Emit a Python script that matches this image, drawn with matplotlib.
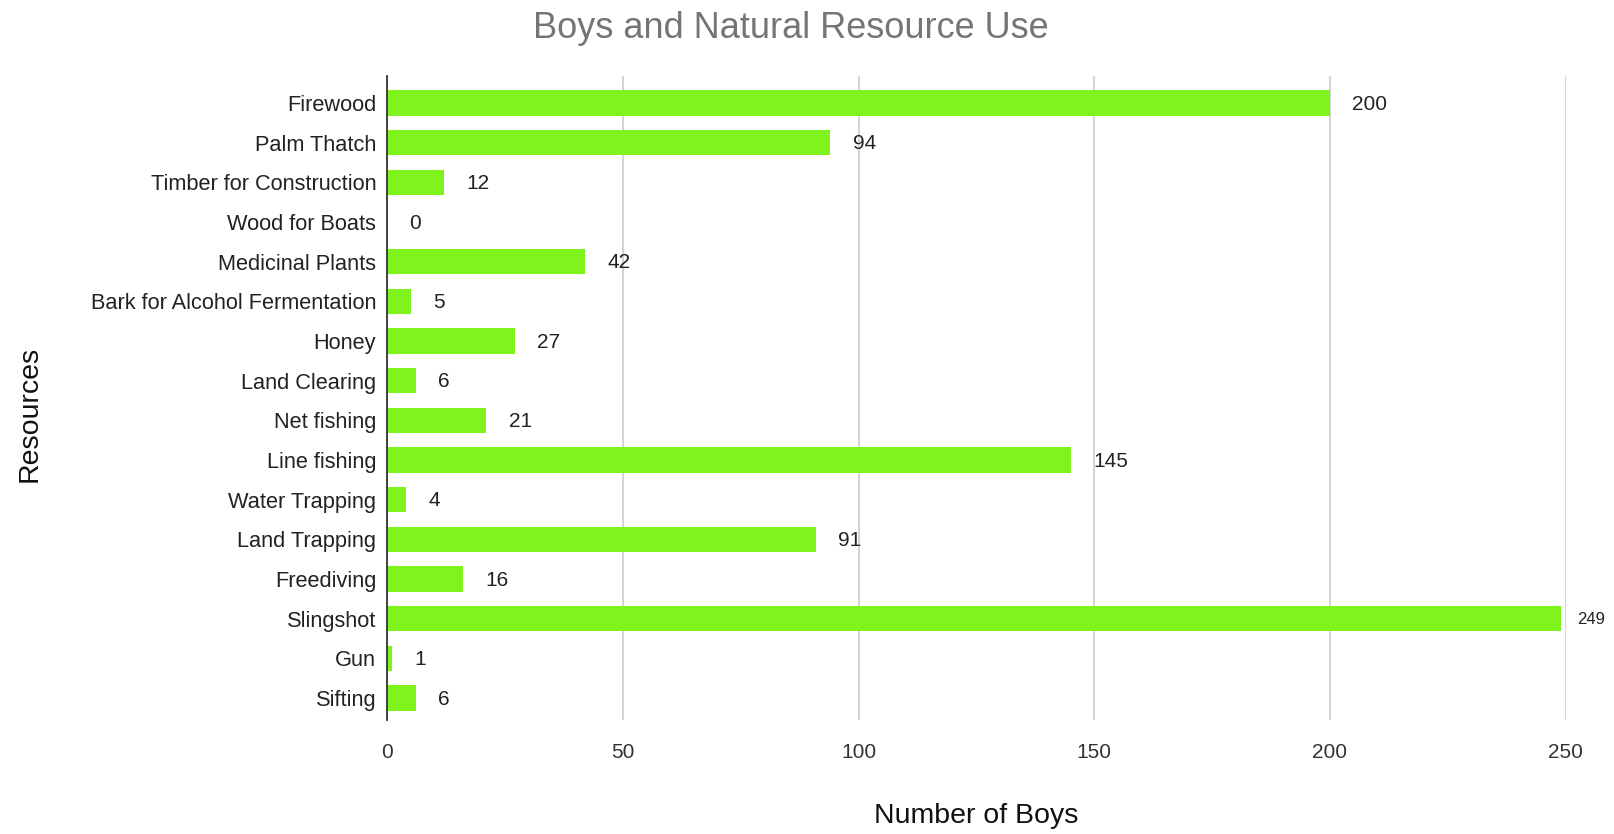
import matplotlib.pyplot as plt

plt.rcParams['font.family'] = ['Liberation Sans', 'DejaVu Sans']

# usage counts per resource, top to bottom
resources = ['Firewood', 'Palm Thatch', 'Timber for Construction', 'Wood for Boats',
             'Medicinal Plants', 'Bark for Alcohol Fermentation', 'Honey', 'Land Clearing',
             'Net fishing', 'Line fishing', 'Water Trapping', 'Land Trapping',
             'Freediving', 'Slingshot', 'Gun', 'Sifting']
boys = [200, 94, 12, 0, 42, 5, 27, 6, 21, 145, 4, 91, 16, 249, 1, 6]

fig = plt.figure(figsize=(16.14, 8.34), dpi=100)
ax = fig.add_axes([0.24, 0.137, 0.730, 0.772])

pos = list(range(len(resources)))
ax.barh(pos, boys, height=0.64, color='#80f31c', zorder=2)

for y, v in zip(pos, boys):
    big = v > 240
    ax.annotate(str(v), (v, y), xytext=(12 if big else 16, -1), textcoords='offset points',
                va='center', ha='left', fontsize=12 if big else 15, color='#222222',
                annotation_clip=False)

ax.set_yticks(pos)
ax.set_yticklabels(resources, fontsize=15.7, color='#222222')
ax.set_ylim(15.55, -0.68)
ax.set_xlim(0, 250)
ax.set_xticks([0, 50, 100, 150, 200, 250])
ax.tick_params(axis='x', labelsize=15, colors='#333333', length=0, pad=17)
ax.tick_params(axis='y', length=0, pad=8)
ax.grid(axis='x', color='#cccccc', linewidth=1.2, zorder=0)
ax.set_axisbelow(True)

for side in ['top', 'right', 'bottom']:
    ax.spines[side].set_visible(False)
ax.spines['left'].set_color('#333333')
ax.spines['left'].set_linewidth(1.3)
ax.spines['left'].set_zorder(3)

xl = ax.set_xlabel('Number of Boys', fontsize=20.5, color='#111111')
yl = ax.set_ylabel('Resources', fontsize=20.5, color='#111111')
ax.xaxis.set_label_coords(0.5, -0.149)
ax.yaxis.set_label_coords(-0.304, 0.475)
xl.set_va('center')
yl.set_va('center')
fig.text(0.49, 0.966, 'Boys and Natural Resource Use', ha='center', va='center',
         fontsize=26, color='#757575')

fig.savefig('out.png', dpi=100)
